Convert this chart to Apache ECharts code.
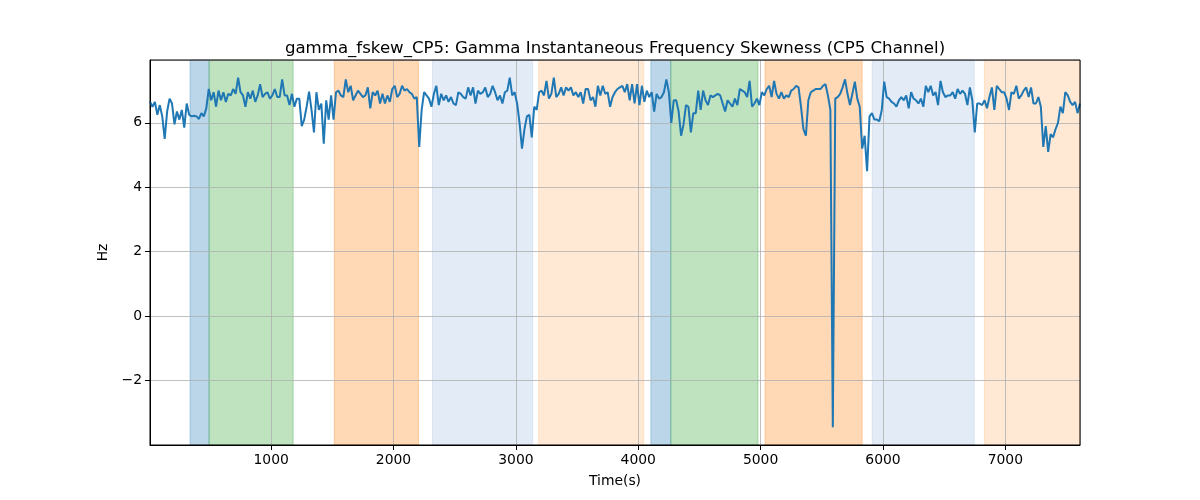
<!DOCTYPE html>
<html>
<head>
<meta charset="utf-8">
<script src="https://cdn.jsdelivr.net/npm/echarts@6/dist/echarts.min.js"></script>
<style>
html,body{margin:0;padding:0;background:#fff;}
#chart{width:1200px;height:500px;}
</style>
</head>
<body>
<div id="chart"></div>
<script>
// Sampling grid (seconds)
var tStart = 10;
var tStep = 20;

// Gamma instantaneous frequency skewness (Hz), one value per sample
var values = [
  // 10 - 310
  6.66, 6.5, 6.65, 6.25, 6.55, 6.2, 5.5, 6.35, 6.75, 6.6, 5.95, 6.35, 6.1, 6.4, 5.85, 6.6,
  // 330 - 470
  6.25, 6.2, 6.22, 6.2, 6.12, 6.3, 6.2, 6.45,
  // 490 - 1090
  7.05, 6.7, 6.95, 6.5, 7.0, 6.7, 6.95, 6.65, 6.9, 6.85, 7.05, 6.9, 7.4, 6.95, 6.85, 6.5,
  6.95, 6.75, 7.0, 6.65, 6.85, 7.2, 6.8, 6.9, 6.95, 6.75, 6.85, 7.05, 6.8, 6.8, 7.35,
  // 1110 - 2170
  6.85, 6.85, 6.55, 6.9, 6.5, 6.75, 6.75, 5.9, 6.1, 6.5, 6.97, 6.4, 5.7, 6.95, 6.4, 6.6,
  5.35, 6.7, 6.1, 6.85, 6.1, 6.95, 7.0, 6.85, 6.8, 7.35, 6.95, 7.15, 6.7, 6.85, 7.0, 6.9,
  6.8, 6.85, 7.1, 6.45, 6.95, 6.85, 7.0, 6.6, 6.9, 6.6, 6.85, 6.65, 7.05, 7.15, 6.8, 6.9,
  7.15, 7.0, 7.05, 6.95, 6.9, 6.75,
  // 2190 - 3270
  6.8, 5.25, 6.4, 6.95, 6.85, 6.75, 6.5, 6.9, 7.15, 6.55, 6.9, 6.7, 6.85, 6.65, 6.8, 6.6,
  6.55, 6.95, 6.9, 6.8, 6.75, 7.1, 6.85, 7.1, 6.6, 7.0, 6.9, 6.95, 7.1, 6.8, 6.9, 7.15,
  6.95, 6.7, 6.85, 6.6, 6.95, 7.0, 7.4, 6.85, 6.95, 6.6, 6.0, 5.2, 5.8, 6.2, 6.25, 5.55,
  6.5, 6.4, 6.95, 7.0, 6.85, 7.3, 6.75,
  // 3290 - 4350
  6.9, 7.4, 6.8, 6.9, 7.1, 6.85, 7.1, 7.0, 7.1, 6.85, 6.95, 6.8, 6.95, 6.6, 7.05, 7.05,
  6.7, 6.8, 6.5, 7.15, 6.85, 7.15, 6.9, 6.95, 6.5, 6.8, 6.95, 7.05, 7.1, 7.15, 6.95, 7.2,
  6.7, 7.2, 6.6, 7.2, 6.55, 7.15, 6.65, 7.0, 6.8, 6.95, 6.35, 6.9, 6.75, 6.8, 6.95, 7.35,
  6.95, 6.0, 6.7, 6.7, 6.35, 5.6,
  // 4370 - 5450
  5.95, 6.55, 6.5, 5.7, 6.3, 6.3, 7.0, 6.4, 7.0, 6.7, 6.55, 6.85, 6.8, 6.85, 6.9, 6.85,
  6.6, 6.35, 6.7, 6.6, 6.5, 6.75, 6.55, 7.05, 7.0, 6.95, 6.8, 7.3, 6.5, 6.6, 6.75, 6.55,
  6.95, 6.85, 7.05, 7.15, 6.8, 7.3, 6.9, 6.75, 6.95, 6.75, 6.85, 6.8, 7.0, 7.05, 7.15, 7.1,
  6.5, 5.8, 5.6, 6.7, 6.95, 7.0, 7.05,
  // 5470 - 6510
  7.05, 7.05, 7.15, 7.2, 6.85, 6.4, -3.45, 6.75, 6.8, 6.9, 7.1, 7.35, 6.9, 6.55, 6.9, 7.28,
  6.75, 6.5, 5.2, 5.6, 4.5, 6.2, 6.3, 6.1, 6.1, 6.05, 6.4, 7.28, 6.8, 6.75, 6.65, 6.6,
  6.5, 6.7, 6.8, 6.7, 6.85, 6.45, 6.95, 6.75, 6.7, 6.6, 6.75, 6.5, 7.15, 6.95, 7.15, 6.85,
  6.95, 6.55, 7.3, 6.95, 6.8,
  // 6530 - 7610
  6.85, 6.85, 6.95, 6.75, 7.05, 6.9, 7.0, 6.9, 6.55, 7.1, 6.7, 5.7, 6.6, 6.6, 6.55, 6.7,
  6.45, 6.8, 7.1, 6.4, 7.15, 7.05, 6.95, 6.95, 6.75, 6.4, 6.95, 6.9, 7.15, 6.75, 6.85, 7.0,
  7.1, 6.8, 7.1, 6.6, 6.6, 6.8, 6.5, 5.25, 5.9, 5.1, 5.65, 5.55, 5.8, 6.0, 6.5, 6.3,
  6.95, 6.85, 6.65, 6.55, 6.65, 6.3, 6.6
];

// Shaded spans (seconds) and their kind
var spanStarts = [337, 493, 1516, 2318, 3186, 4103, 4266, 5036, 5912, 6828];
var spanEnds   = [493, 1180, 2204, 3137, 4045, 4266, 4979, 5830, 6746, 7610];
var spanKinds  = ['blue', 'green', 'orange', 'lightblue', 'lightorange', 'blue', 'green', 'orange', 'lightblue', 'lightorange'];

var xTicks = [1000, 2000, 3000, 4000, 5000, 6000, 7000];
var yTicks = [-2, 0, 2, 4, 6];

var spanColors = {
  blue: 'rgba(31,119,180,0.3)',
  green: 'rgba(44,160,44,0.3)',
  orange: 'rgba(255,127,14,0.3)',
  lightblue: 'rgba(174,199,232,0.35)',
  lightorange: 'rgba(255,187,120,0.32)'
};

var lineData = values.map(function (v, i) { return [tStart + i * tStep, v]; });
var xMin = tStart;
var xMax = tStart + (values.length - 1) * tStep;

var areaData = spanStarts.map(function (s, i) {
  var c = spanColors[spanKinds[i]];
  return [
    { xAxis: s, itemStyle: { color: c, borderColor: c, borderWidth: 1 } },
    { xAxis: Math.min(spanEnds[i], xMax) }
  ];
});

var FONT = 'DejaVu Sans';
var chart = echarts.init(document.getElementById('chart'), null, { renderer: 'canvas' });
chart.setOption({
  animation: false,
  backgroundColor: '#ffffff',
  title: {
    text: 'gamma_fskew_CP5: Gamma Instantaneous Frequency Skewness (CP5 Channel)',
    left: 610, top: 35, textAlign: 'center',
    textStyle: { fontFamily: FONT, fontSize: 16.6, fontWeight: 'normal', color: '#000' }
  },
  grid: { left: 150, right: 120, top: 60, bottom: 55, show: true, borderColor: '#000', borderWidth: 1, backgroundColor: 'transparent', z: 3 },
  xAxis: {
    type: 'value', min: xMin, max: xMax, minInterval: 1000, maxInterval: 1000, splitNumber: 8,
    z: 1,
    name: 'Time(s)', nameLocation: 'middle', nameGap: 29,
    nameTextStyle: { fontFamily: FONT, fontSize: 13.9, color: '#000' },
    axisLine: { show: true, onZero: false, lineStyle: { color: '#000', width: 1 } },
    axisTick: { show: true, inside: false, length: 5, lineStyle: { color: '#000', width: 1 } },
    axisLabel: {
      margin: 8, fontFamily: FONT, fontSize: 13.9, color: '#000',
      showMinLabel: false, showMaxLabel: false,
      formatter: function (v) { return xTicks.indexOf(v) >= 0 ? String(v) : ''; }
    },
    splitLine: { show: true, lineStyle: { color: '#b0b0b0', width: 0.8 } }
  },
  yAxis: {
    type: 'value', min: -4.0, max: 7.95, minInterval: 2, maxInterval: 2, splitNumber: 6,
    z: 1,
    name: 'Hz', nameLocation: 'middle', nameGap: 35,
    nameTextStyle: { fontFamily: FONT, fontSize: 13.9, color: '#000' },
    axisLine: { show: true, onZero: false, lineStyle: { color: '#000', width: 1 } },
    axisTick: { show: true, inside: false, length: 5, lineStyle: { color: '#000', width: 1 } },
    axisLabel: {
      margin: 8, fontFamily: FONT, fontSize: 13.9, color: '#000',
      showMinLabel: false, showMaxLabel: false,
      formatter: function (v) {
        if (yTicks.indexOf(v) < 0) return '';
        return v < 0 ? '\u2212' + Math.abs(v) : String(v);
      }
    },
    splitLine: { show: true, lineStyle: { color: '#b0b0b0', width: 0.8 } }
  },
  series: [
    {
      name: 'spans', type: 'line', data: [], z: 0, silent: true,
      markArea: { silent: true, z: 0, data: areaData }
    },
    {
      name: 'gamma_fskew_CP5', type: 'line', data: lineData, z: 2,
      showSymbol: false, symbol: 'none',
      lineStyle: { color: '#1f77b4', width: 2 },
      itemStyle: { color: '#1f77b4' }
    }
  ]
});
</script>
</body>
</html>
